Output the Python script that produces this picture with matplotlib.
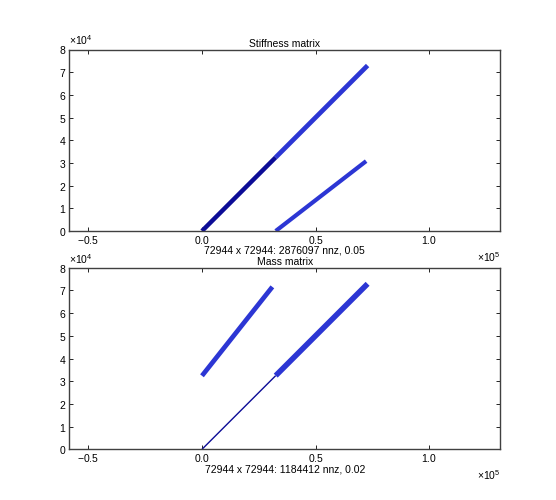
import matplotlib
matplotlib.use("Agg")
import matplotlib.pyplot as plt

plt.rcParams['font.family'] = ['Liberation Sans', 'DejaVu Sans']
plt.rcParams['font.size'] = 7.3
plt.rcParams['mathtext.fontset'] = 'custom'
plt.rcParams['mathtext.rm'] = 'Liberation Sans'
plt.rcParams['axes.unicode_minus'] = False

N = 72944
XLIM = (-58430, 131370)
YLIM = (0, 80000)

# segments: (x0, y0, x1, y1), colour, width
stiff_segs = [
    ((0, 0, 32472, 32472), '#0c0c96', 3.2),
    ((32472, 32472, 72944, 72944), '#2c36d4', 3.4),
    ((32472, 0, 72300, 30800), '#2c36d4', 3.0),
]
mass_segs = [
    ((0, 32400, 31000, 71600), '#2c36d4', 3.4),
    ((0, 0, 32472, 32472), '#0c0c96', 1.0),
    ((32472, 32472, 72944, 72944), '#2c36d4', 4.0),
]
titles = ["Stiffness matrix", "Mass matrix"]
labels = ["72944 x 72944: 2876097 nnz, 0.05",
          "72944 x 72944: 1184412 nnz, 0.02"]

fig = plt.figure(figsize=(5.56, 5.0), dpi=100)
ax1 = fig.add_axes([0.1247, 0.538, 0.775, 0.363])
ax2 = fig.add_axes([0.1247, 0.1014, 0.775, 0.363])

for ax, segs, title, lab in zip([ax1, ax2], [stiff_segs, mass_segs], titles, labels):
    for (x0, y0, x1, y1), c, w in segs:
        ax.plot([x0, x1], [y0, y1], '-', color=c, lw=w, solid_capstyle='butt')
    ax.set_xlim(XLIM)
    ax.set_ylim(YLIM)
    ax.set_xticks([-50000, 0, 50000, 100000])
    ax.set_yticks(range(0, 80001, 10000))
    ax.ticklabel_format(style='sci', scilimits=(0, 0), useMathText=True)
    ax.tick_params(direction='in', top=True, right=True, length=3,
                   width=0.6, pad=2, labelsize=7.5)
    for s in ax.spines.values():
        s.set_linewidth(1.0)
        s.set_color('#404040')
    ax.set_title(title, fontsize=7.5, pad=2)
    ax.set_xlabel(lab, fontsize=7.5, labelpad=0)
    ax.xaxis.get_offset_text().set_fontsize(7.5)
    ax.yaxis.get_offset_text().set_fontsize(7.5)

fig.savefig("out.png", dpi=100)
